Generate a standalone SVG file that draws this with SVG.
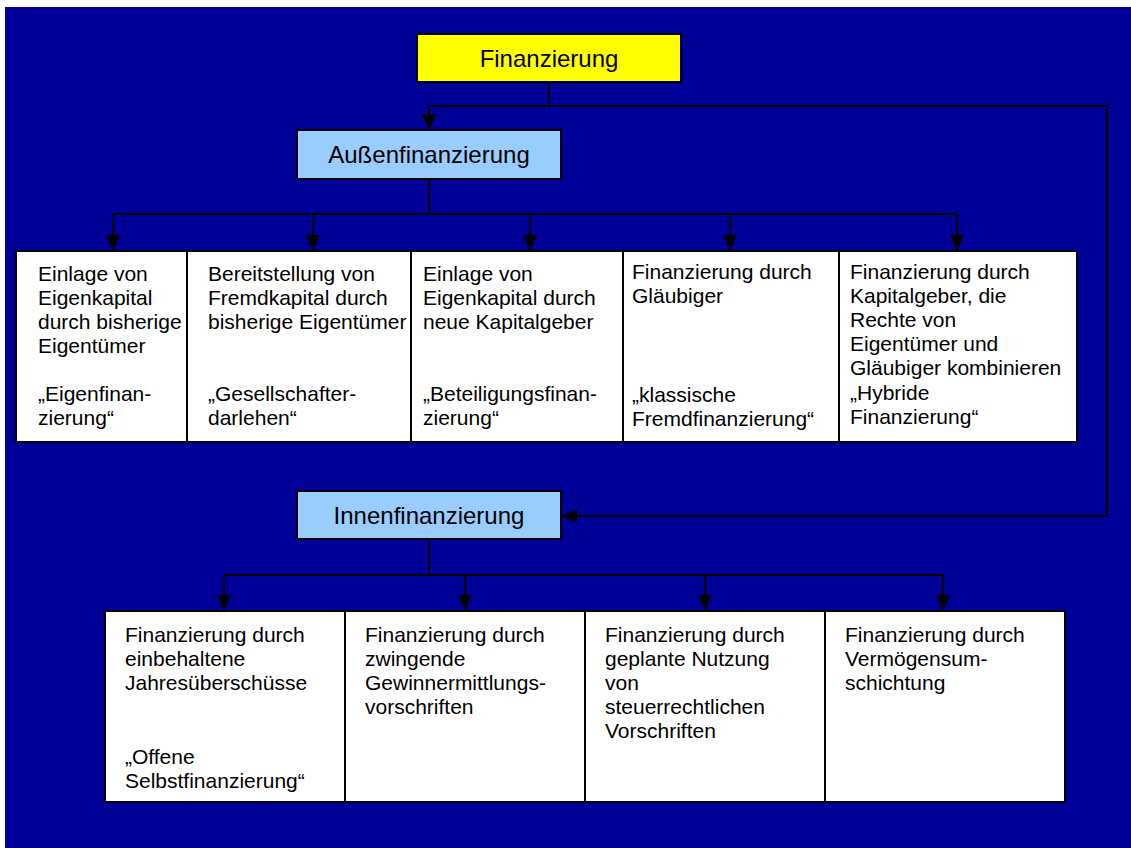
<svg xmlns="http://www.w3.org/2000/svg" width="1131" height="848" viewBox="0 0 1131 848">
  <style>
    .box { stroke: #000; stroke-width: 2; }
    .root { fill: #ffff00; }
    .branch { fill: #99ccff; }
    .leaf { fill: #ffffff; }
    .head { font-family: "Liberation Sans", Arial, sans-serif; font-size: 24px; fill: #000; text-anchor: middle; }
    .txt { font-family: "Liberation Sans", Arial, sans-serif; font-size: 21px; fill: #000; }
    .wire { fill: none; stroke: #000; stroke-width: 2; }
  </style>
  <defs>
    <marker id="arrow" viewBox="0 0 16 14" refX="16" refY="7" markerWidth="16" markerHeight="14" markerUnits="userSpaceOnUse" orient="auto">
      <path d="M0,0 L16,7 L0,14 Z" fill="#000"/>
    </marker>
  </defs>

  <!-- background -->
  <rect x="0" y="0" width="1131" height="848" fill="#ffffff"/>
  <rect x="5" y="7" width="1126" height="841" fill="#000099"/>

  <!-- connectors -->
  <g id="connectors">
    <path class="wire" d="M549,82 V106"/>
    <path class="wire" d="M429,106 H1107 V516 H561" marker-end="url(#arrow)"/>
    <path class="wire" d="M429,106 V130" marker-end="url(#arrow)"/>

    <path class="wire" d="M429,179 V214"/>
    <path class="wire" d="M113,214 H957"/>
    <path class="wire" d="M113,214 V251" marker-end="url(#arrow)"/>
    <path class="wire" d="M313,214 V251" marker-end="url(#arrow)"/>
    <path class="wire" d="M530,214 V251" marker-end="url(#arrow)"/>
    <path class="wire" d="M730,214 V251" marker-end="url(#arrow)"/>
    <path class="wire" d="M957,214 V251" marker-end="url(#arrow)"/>

    <path class="wire" d="M429,539 V575"/>
    <path class="wire" d="M224,575 H943"/>
    <path class="wire" d="M224,575 V611" marker-end="url(#arrow)"/>
    <path class="wire" d="M465,575 V611" marker-end="url(#arrow)"/>
    <path class="wire" d="M705,575 V611" marker-end="url(#arrow)"/>
    <path class="wire" d="M943,575 V611" marker-end="url(#arrow)"/>
  </g>

  <!-- top level -->
  <g id="finanzierung">
    <rect class="box root" x="417" y="34" width="264" height="48"/>
    <text class="head" x="549" y="67">Finanzierung</text>
  </g>

  <g id="aussenfinanzierung">
    <rect class="box branch" x="297" y="130" width="264" height="49"/>
    <text class="head" x="429" y="163">Außenfinanzierung</text>
  </g>

  <g id="innenfinanzierung">
    <rect class="box branch" x="297" y="491" width="264" height="48"/>
    <text class="head" x="429" y="524">Innenfinanzierung</text>
  </g>

  <!-- external financing forms -->
  <g id="eigenfinanzierung">
    <rect class="box leaf" x="16" y="251" width="171" height="191"/>
    <text class="txt" x="38" y="281">Einlage von</text>
    <text class="txt" x="38" y="305">Eigenkapital</text>
    <text class="txt" x="38" y="329">durch bisherige</text>
    <text class="txt" x="38" y="353">Eigentümer</text>
    <text class="txt" x="38" y="401">„Eigenfinan-</text>
    <text class="txt" x="38" y="425">zierung“</text>
  </g>

  <g id="gesellschafterdarlehen">
    <rect class="box leaf" x="187" y="251" width="224" height="191"/>
    <text class="txt" x="208" y="281">Bereitstellung von</text>
    <text class="txt" x="208" y="305">Fremdkapital durch</text>
    <text class="txt" x="208" y="329">bisherige Eigentümer</text>
    <text class="txt" x="208" y="401">„Gesellschafter-</text>
    <text class="txt" x="208" y="425">darlehen“</text>
  </g>

  <g id="beteiligungsfinanzierung">
    <rect class="box leaf" x="411" y="251" width="212" height="191"/>
    <text class="txt" x="423" y="281">Einlage von</text>
    <text class="txt" x="423" y="305">Eigenkapital durch</text>
    <text class="txt" x="423" y="329">neue Kapitalgeber</text>
    <text class="txt" x="423" y="401">„Beteiligungsfinan-</text>
    <text class="txt" x="423" y="425">zierung“</text>
  </g>

  <g id="fremdfinanzierung">
    <rect class="box leaf" x="623" y="251" width="216" height="191"/>
    <text class="txt" x="632" y="279">Finanzierung durch</text>
    <text class="txt" x="632" y="303">Gläubiger</text>
    <text class="txt" x="632" y="402">„klassische</text>
    <text class="txt" x="632" y="426">Fremdfinanzierung“</text>
  </g>

  <g id="hybride-finanzierung">
    <rect class="box leaf" x="839" y="251" width="238" height="191"/>
    <text class="txt" x="850" y="279">Finanzierung durch</text>
    <text class="txt" x="850" y="303">Kapitalgeber, die</text>
    <text class="txt" x="850" y="327">Rechte von</text>
    <text class="txt" x="850" y="351">Eigentümer und</text>
    <text class="txt" x="850" y="375">Gläubiger kombinieren</text>
    <text class="txt" x="850" y="400">„Hybride</text>
    <text class="txt" x="850" y="424">Finanzierung“</text>
  </g>

  <!-- internal financing forms -->
  <g id="selbstfinanzierung">
    <rect class="box leaf" x="105" y="611" width="240" height="191"/>
    <text class="txt" x="125" y="642">Finanzierung durch</text>
    <text class="txt" x="125" y="666">einbehaltene</text>
    <text class="txt" x="125" y="690">Jahresüberschüsse</text>
    <text class="txt" x="125" y="764">„Offene</text>
    <text class="txt" x="125" y="788">Selbstfinanzierung“</text>
  </g>

  <g id="gewinnermittlung">
    <rect class="box leaf" x="345" y="611" width="240" height="191"/>
    <text class="txt" x="365" y="642">Finanzierung durch</text>
    <text class="txt" x="365" y="666">zwingende</text>
    <text class="txt" x="365" y="690">Gewinnermittlungs-</text>
    <text class="txt" x="365" y="714">vorschriften</text>
  </g>

  <g id="steuerrecht">
    <rect class="box leaf" x="585" y="611" width="240" height="191"/>
    <text class="txt" x="605" y="642">Finanzierung durch</text>
    <text class="txt" x="605" y="666">geplante Nutzung</text>
    <text class="txt" x="605" y="690">von</text>
    <text class="txt" x="605" y="714">steuerrechtlichen</text>
    <text class="txt" x="605" y="738">Vorschriften</text>
  </g>

  <g id="vermoegensumschichtung">
    <rect class="box leaf" x="825" y="611" width="240" height="191"/>
    <text class="txt" x="845" y="642">Finanzierung durch</text>
    <text class="txt" x="845" y="666">Vermögensum-</text>
    <text class="txt" x="845" y="690">schichtung</text>
  </g>
</svg>
